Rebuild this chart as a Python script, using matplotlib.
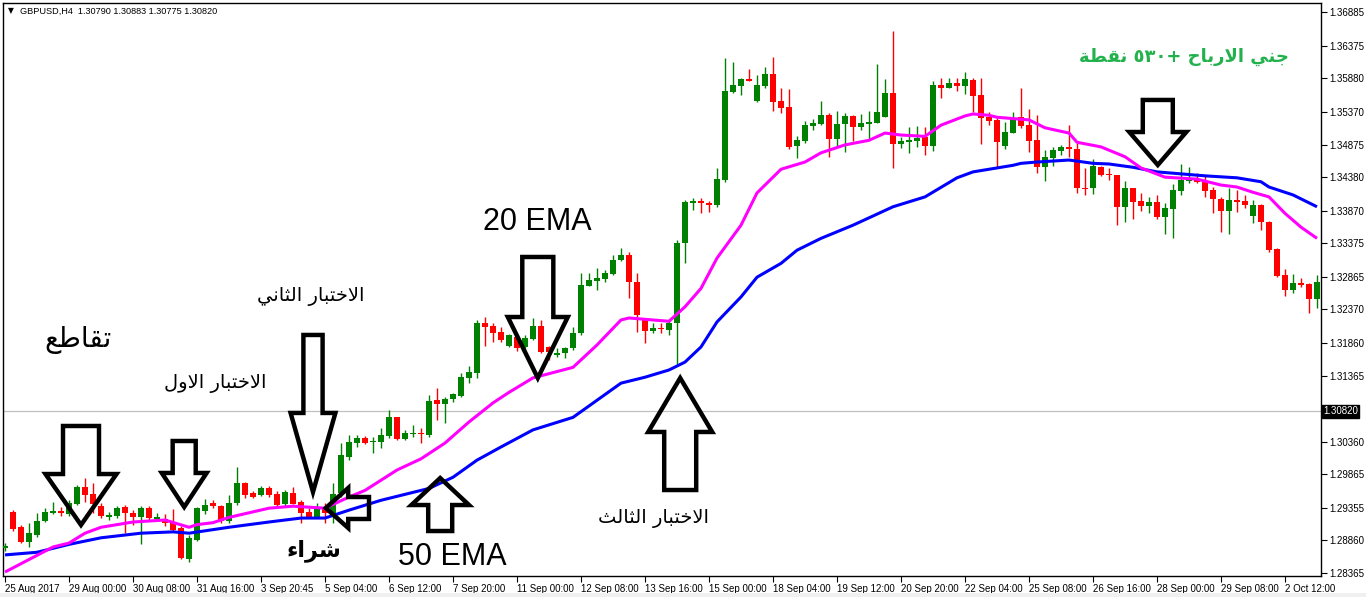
import re
import numpy as np
import matplotlib
matplotlib.use("Agg")
import matplotlib.pyplot as plt
from matplotlib.patches import Polygon, Rectangle
import matplotlib.transforms as mtransforms

# ---------------- data ----------------
opens = [1.2874, 1.2929, 1.2906, 1.2884, 1.2894, 1.2916, 1.2928, 1.2931, 1.2926, 1.2941,
         1.2967, 1.2956, 1.2939, 1.2922, 1.2923, 1.2937, 1.2927, 1.2921, 1.2935, 1.2919,
         1.2918, 1.2913, 1.2905, 1.2858, 1.2886, 1.2930, 1.2943, 1.2938, 1.2915, 1.2943,
         1.2973, 1.2958, 1.2955, 1.2965, 1.2956, 1.2941, 1.2958, 1.2944, 1.2929, 1.2921,
         1.2937, 1.2926, 1.2958, 1.3013, 1.3034, 1.3042, 1.3035, 1.3035, 1.3045, 1.3073,
         1.3040, 1.3047, 1.3049, 1.3046, 1.3099, 1.3093, 1.3101, 1.3105, 1.3133, 1.3140,
         1.3216, 1.3212, 1.3203, 1.3181, 1.3195, 1.3180, 1.3192, 1.3212, 1.3180, 1.3168,
         1.3171, 1.3178, 1.3201, 1.3272, 1.3280, 1.3283, 1.3291, 1.3312, 1.3320, 1.3279,
         1.3224, 1.3204, 1.3209, 1.3206, 1.3216, 1.3338, 1.3399, 1.3402, 1.3399, 1.3396,
         1.3434, 1.3567, 1.3576, 1.3587, 1.3554, 1.3576, 1.3595, 1.3554, 1.3545, 1.3485,
         1.3493, 1.3516, 1.3519, 1.3532, 1.3496, 1.3519, 1.3531, 1.3514, 1.3519, 1.3520,
         1.3529, 1.3566, 1.3488, 1.3491, 1.3493, 1.3499, 1.3485, 1.3578, 1.3573, 1.3581,
         1.3576, 1.3586, 1.3563, 1.3529, 1.3525, 1.3485, 1.3505, 1.3529, 1.3517, 1.3494,
         1.3453, 1.3467, 1.3478, 1.3484, 1.3481, 1.3421, 1.3421, 1.3453, 1.3443, 1.3441,
         1.3393, 1.3421, 1.3402, 1.3394, 1.3400, 1.3377, 1.3390, 1.3417, 1.3432, 1.3434,
         1.3431, 1.3418, 1.3405, 1.3386, 1.3403, 1.3402, 1.3379, 1.3396, 1.3370, 1.3329,
         1.3289, 1.3266, 1.3277, 1.3275, 1.3253]
highs = [1.2882, 1.2932, 1.2909, 1.2912, 1.2927, 1.2935, 1.2944, 1.2937, 1.2947, 1.2970,
         1.2981, 1.2973, 1.2943, 1.2929, 1.2938, 1.2940, 1.2932, 1.2938, 1.2938, 1.2927,
         1.2926, 1.2933, 1.2908, 1.2894, 1.2937, 1.2949, 1.2947, 1.2940, 1.2955, 1.2997,
         1.2975, 1.2961, 1.2968, 1.2968, 1.2961, 1.2962, 1.2967, 1.2947, 1.2935, 1.2943,
         1.2943, 1.2973, 1.3034, 1.3046, 1.3046, 1.3044, 1.3043, 1.3057, 1.3084, 1.3074,
         1.3054, 1.3061, 1.3057, 1.3107, 1.3117, 1.3104, 1.3110, 1.3140, 1.3151, 1.3221,
         1.3225, 1.3216, 1.3210, 1.3199, 1.3198, 1.3198, 1.3224, 1.3221, 1.3181, 1.3178,
         1.3180, 1.3210, 1.3292, 1.3292, 1.3300, 1.3297, 1.3320, 1.3330, 1.3324, 1.3292,
         1.3224, 1.3216, 1.3216, 1.3221, 1.3342, 1.3403, 1.3406, 1.3406, 1.3402, 1.3452,
         1.3619, 1.3613, 1.3589, 1.3602, 1.3593, 1.3605, 1.3621, 1.3573, 1.3572, 1.3500,
         1.3523, 1.3526, 1.3554, 1.3535, 1.3538, 1.3535, 1.3532, 1.3534, 1.3538, 1.3610,
         1.3587, 1.3660, 1.3499, 1.3514, 1.3516, 1.3514, 1.3584, 1.3589, 1.3589, 1.3589,
         1.3598, 1.3589, 1.3589, 1.3537, 1.3528, 1.3522, 1.3537, 1.3573, 1.3541, 1.3532,
         1.3479, 1.3484, 1.3487, 1.3517, 1.3490, 1.3452, 1.3465, 1.3455, 1.3452, 1.3441,
         1.3432, 1.3421, 1.3414, 1.3408, 1.3411, 1.3399, 1.3427, 1.3458, 1.3453, 1.3444,
         1.3441, 1.3423, 1.3408, 1.3421, 1.3418, 1.3411, 1.3403, 1.3397, 1.3371, 1.3330,
         1.3298, 1.3291, 1.3285, 1.3277, 1.3289]
lows = [1.2870, 1.2900, 1.2882, 1.2876, 1.2891, 1.2914, 1.2926, 1.2923, 1.2923, 1.2940,
        1.2944, 1.2927, 1.2920, 1.2917, 1.2920, 1.2897, 1.2909, 1.2880, 1.2917, 1.2915,
        1.2908, 1.2900, 1.2858, 1.2853, 1.2885, 1.2926, 1.2936, 1.2912, 1.2912, 1.2940,
        1.2950, 1.2950, 1.2953, 1.2952, 1.2938, 1.2938, 1.2941, 1.2912, 1.2920, 1.2920,
        1.2912, 1.2912, 1.2952, 1.3008, 1.3028, 1.3033, 1.3019, 1.3026, 1.3042, 1.3038,
        1.3038, 1.3043, 1.3034, 1.3043, 1.3069, 1.3064, 1.3096, 1.3104, 1.3125, 1.3133,
        1.3181, 1.3187, 1.3187, 1.3180, 1.3174, 1.3178, 1.3190, 1.3171, 1.3160, 1.3164,
        1.3163, 1.3175, 1.3198, 1.3272, 1.3266, 1.3278, 1.3289, 1.3310, 1.3254, 1.3203,
        1.3186, 1.3201, 1.3201, 1.3198, 1.3154, 1.3307, 1.3388, 1.3384, 1.3385, 1.3393,
        1.3431, 1.3566, 1.3563, 1.3584, 1.3552, 1.3573, 1.3538, 1.3535, 1.3481, 1.3467,
        1.3490, 1.3510, 1.3517, 1.3469, 1.3485, 1.3476, 1.3493, 1.3510, 1.3494, 1.3520,
        1.3529, 1.3452, 1.3482, 1.3475, 1.3484, 1.3472, 1.3478, 1.3558, 1.3573, 1.3569,
        1.3564, 1.3537, 1.3488, 1.3517, 1.3453, 1.3481, 1.3505, 1.3513, 1.3476, 1.3444,
        1.3432, 1.3455, 1.3472, 1.3469, 1.3414, 1.3411, 1.3412, 1.3440, 1.3434, 1.3365,
        1.3370, 1.3374, 1.3386, 1.3384, 1.3374, 1.3352, 1.3345, 1.3411, 1.3429, 1.3429,
        1.3408, 1.3384, 1.3355, 1.3352, 1.3385, 1.3391, 1.3368, 1.3358, 1.3324, 1.3286,
        1.3257, 1.3262, 1.3271, 1.3231, 1.3239]
closes = [1.2877, 1.2903, 1.2884, 1.2897, 1.2915, 1.2929, 1.2930, 1.2927, 1.2943, 1.2967,
          1.2955, 1.2941, 1.2923, 1.2925, 1.2935, 1.2927, 1.2921, 1.2936, 1.2920, 1.2921,
          1.2912, 1.2902, 1.2859, 1.2889, 1.2935, 1.2940, 1.2939, 1.2915, 1.2943, 1.2973,
          1.2955, 1.2952, 1.2965, 1.2955, 1.2940, 1.2959, 1.2942, 1.2927, 1.2921, 1.2935,
          1.2927, 1.2956, 1.3016, 1.3036, 1.3042, 1.3034, 1.3037, 1.3046, 1.3073, 1.3040,
          1.3049, 1.3049, 1.3047, 1.3098, 1.3094, 1.3101, 1.3108, 1.3134, 1.3142, 1.3216,
          1.3210, 1.3201, 1.3190, 1.3198, 1.3178, 1.3194, 1.3212, 1.3172, 1.3172, 1.3171,
          1.3178, 1.3201, 1.3274, 1.3282, 1.3285, 1.3292, 1.3312, 1.3320, 1.3279, 1.3228,
          1.3204, 1.3209, 1.3207, 1.3216, 1.3338, 1.3400, 1.3402, 1.3399, 1.3396, 1.3435,
          1.3569, 1.3578, 1.3587, 1.3584, 1.3578, 1.3595, 1.3552, 1.3543, 1.3484, 1.3494,
          1.3517, 1.3520, 1.3532, 1.3496, 1.3519, 1.3531, 1.3514, 1.3520, 1.3522, 1.3537,
          1.3566, 1.3488, 1.3493, 1.3494, 1.3497, 1.3485, 1.3578, 1.3573, 1.3581, 1.3576,
          1.3587, 1.3561, 1.3528, 1.3523, 1.3491, 1.3507, 1.3526, 1.3516, 1.3493, 1.3453,
          1.3469, 1.3479, 1.3484, 1.3481, 1.3421, 1.3420, 1.3455, 1.3441, 1.3441, 1.3393,
          1.3421, 1.3400, 1.3394, 1.3400, 1.3377, 1.3391, 1.3418, 1.3434, 1.3437, 1.3431,
          1.3417, 1.3405, 1.3386, 1.3403, 1.3400, 1.3396, 1.3396, 1.3370, 1.3327, 1.3288,
          1.3266, 1.3277, 1.3274, 1.3253, 1.3278]

ema20_bars = [0, 6, 8, 10, 12, 16, 20, 23, 24, 26, 28, 33, 36, 40, 43, 45, 49, 52, 55, 58,
              61, 63, 66, 71, 74, 77, 78, 83, 85, 87, 89, 92, 94, 97, 100, 102, 105, 108,
              110, 112, 115, 117, 120, 121, 123, 124, 128, 130, 133, 134, 137, 140, 142,
              145, 149, 152, 154, 156, 158, 160, 162, 164]
ema20_vals = [1.2838, 1.2876, 1.2882, 1.2897, 1.2906, 1.2914, 1.2917, 1.2906, 1.2910, 1.2913,
              1.2921, 1.2935, 1.2938, 1.2935, 1.2952, 1.2962, 1.2993, 1.3010, 1.3034, 1.3066,
              1.3095, 1.3111, 1.3133, 1.3149, 1.3183, 1.3221, 1.3224, 1.3219, 1.3241, 1.3269,
              1.3315, 1.3365, 1.3414, 1.3450, 1.3461, 1.3475, 1.3487, 1.3494, 1.3505, 1.3502,
              1.3500, 1.3517, 1.3531, 1.3534, 1.3532, 1.3529, 1.3525, 1.3513, 1.3505, 1.3491,
              1.3484, 1.3469, 1.3452, 1.3438, 1.3435, 1.3426, 1.3423, 1.3415, 1.3408, 1.3383,
              1.3362, 1.3345]

ema50_bars = [0, 4, 8, 12, 17, 21, 23, 28, 33, 37, 40, 43, 47, 53, 56, 59, 62, 66, 71, 74,
              77, 80, 83, 85, 87, 89, 92, 94, 97, 99, 102, 106, 111, 115, 119, 121, 126,
              127, 129, 133, 136, 138, 141, 144, 147, 150, 154, 157, 158, 161, 164]
ema50_vals = [1.2864, 1.2868, 1.2880, 1.2890, 1.2897, 1.2899, 1.2897, 1.2906, 1.2914, 1.2920,
              1.2920, 1.2932, 1.2947, 1.2965, 1.2982, 1.3008, 1.3028, 1.3054, 1.3073, 1.3099,
              1.3125, 1.3134, 1.3145, 1.3157, 1.3180, 1.3218, 1.3256, 1.3286, 1.3307, 1.3327,
              1.3345, 1.3365, 1.3393, 1.3408, 1.3437, 1.3446, 1.3456, 1.3459, 1.3461, 1.3464,
              1.3459, 1.3458, 1.3453, 1.3446, 1.3443, 1.3440, 1.3437, 1.3431, 1.3423, 1.3411,
              1.3393]

xtick_labels = ["25 Aug 2017", "29 Aug 00:00", "30 Aug 08:00", "31 Aug 16:00", "3 Sep 20:45",
                "5 Sep 04:00", "6 Sep 12:00", "7 Sep 20:00", "11 Sep 00:00", "12 Sep 08:00",
                "13 Sep 16:00", "15 Sep 00:00", "18 Sep 04:00", "19 Sep 12:00", "20 Sep 20:00",
                "22 Sep 04:00", "25 Sep 08:00", "26 Sep 16:00", "28 Sep 00:00", "29 Sep 08:00",
                "2 Oct 12:00"]
ytick_values = [1.36885, 1.36375, 1.35880, 1.35370, 1.34875, 1.34380, 1.33870, 1.33375,
                1.32865, 1.32370, 1.31860, 1.31365, 1.30360, 1.29865, 1.29355, 1.28860,
                1.28365]
current_price = 1.30820
title_text = "GBPUSD,H4  1.30790 1.30883 1.30775 1.30820"

# ---------------- Arabic shaping (presentation forms, visual order) ----------------
AR_FORMS = {
    "\u0627": ("\uFE8D", "\uFE8E", None, None),
    "\u0628": ("\uFE8F", "\uFE90", "\uFE91", "\uFE92"),
    "\u062A": ("\uFE95", "\uFE96", "\uFE97", "\uFE98"),
    "\u062B": ("\uFE99", "\uFE9A", "\uFE9B", "\uFE9C"),
    "\u062C": ("\uFE9D", "\uFE9E", "\uFE9F", "\uFEA0"),
    "\u062D": ("\uFEA1", "\uFEA2", "\uFEA3", "\uFEA4"),
    "\u062E": ("\uFEA5", "\uFEA6", "\uFEA7", "\uFEA8"),
    "\u0631": ("\uFEAD", "\uFEAE", None, None),
    "\u0634": ("\uFEB5", "\uFEB6", "\uFEB7", "\uFEB8"),
    "\u0637": ("\uFEC1", "\uFEC2", "\uFEC3", "\uFEC4"),
    "\u0639": ("\uFEC9", "\uFECA", "\uFECB", "\uFECC"),
    "\u0642": ("\uFED5", "\uFED6", "\uFED7", "\uFED8"),
    "\u0644": ("\uFEDD", "\uFEDE", "\uFEDF", "\uFEE0"),
    "\u0646": ("\uFEE5", "\uFEE6", "\uFEE7", "\uFEE8"),
    "\u0648": ("\uFEED", "\uFEEE", None, None),
    "\u064A": ("\uFEF1", "\uFEF2", "\uFEF3", "\uFEF4"),
    "\u0629": ("\uFE93", "\uFE94", None, None),
    "\u0621": ("\uFE80", None, None, None),
}
DIGITS = "0123456789\u0660\u0661\u0662\u0663\u0664\u0665\u0666\u0667\u0668\u0669"


def shape_arabic(text):
    units = []
    i = 0
    while i < len(text):
        ch = text[i]
        if ch == "\u0644" and i + 1 < len(text) and text[i + 1] == "\u0627":
            units.append(("\uFEFB", "\uFEFC", None, None))
            i += 2
            continue
        units.append(AR_FORMS.get(ch, ch))
        i += 1

    def j_prev(u):
        return isinstance(u, tuple) and u[1] is not None

    def j_next(u):
        return isinstance(u, tuple) and u[2] is not None

    out = []
    for k, u in enumerate(units):
        if not isinstance(u, tuple):
            out.append(u)
            continue
        p = k > 0 and j_next(units[k - 1]) and j_prev(u)
        n = k + 1 < len(units) and j_next(u) and j_prev(units[k + 1])
        if p and n:
            f = u[3]
        elif p:
            f = u[1]
        elif n:
            f = u[2]
        else:
            f = u[0]
        out.append(f)
    vis = "".join(out)[::-1]
    vis = re.sub("[" + DIGITS + "]+", lambda m: m.group(0)[::-1], vis)
    return vis


# ---------------- figure ----------------
W, H = 1366, 597
fig = plt.figure(figsize=(W / 100, H / 100), dpi=100)
fig.patch.set_facecolor("white")
ax = fig.add_axes([3 / W, 21 / H, 1318 / W, 573 / H])
ax.set_xlim(-0.25, 164.5)
ax.set_ylim(1.283195, 1.370263)
ax.set_facecolor("white")

# light gray strip under the window
fig.patches.append(Rectangle((0, 0), 1, 4 / H, transform=fig.transFigure,
                             facecolor="#f0f0f0", edgecolor="none", zorder=0))

# current price line
ax.axhline(current_price, color="#c0c0c0", lw=0.9, zorder=1)

# candles
o = np.array(opens)
h = np.array(highs)
l = np.array(lows)
c = np.array(closes)
xs = np.arange(len(o))
up = c >= o
cols = np.where(up, "#008000", "#ff0000")
ax.vlines(xs, l, h, colors=cols, lw=1.0, zorder=2)
bottoms = np.minimum(o, c)
heights = np.maximum(np.abs(c - o), 0.00013)
ax.bar(xs, heights, bottom=bottoms, width=0.64, color=cols, linewidth=0, zorder=3)

# EMA lines
ax.plot(ema50_bars, ema50_vals, color="#0000ff", lw=2.2, zorder=4, solid_capstyle="butt")
ax.plot(ema20_bars, ema20_vals, color="#ff00ff", lw=2.2, zorder=4, solid_capstyle="butt")

# ---------------- arrows (annotations) ----------------
def v_arrow(cx, tip, tail, head_base, head_hw, shaft_hw):
    return [(cx - shaft_hw, tail), (cx + shaft_hw, tail), (cx + shaft_hw, head_base),
            (cx + head_hw, head_base), (cx, tip), (cx - head_hw, head_base),
            (cx - shaft_hw, head_base)]


def h_arrow(cy, tip, tail, head_base, head_hh, shaft_hh):
    return [(tail, cy - shaft_hh), (tail, cy + shaft_hh), (head_base, cy + shaft_hh),
            (head_base, cy + head_hh), (tip, cy), (head_base, cy - head_hh),
            (head_base, cy - shaft_hh)]


arrows = [
    v_arrow(9.5, 1.29095, 1.30599, 1.29869, 4.44, 2.25),
    v_arrow(22.4, 1.29368, 1.30371, 1.29885, 2.8, 1.44),
    v_arrow(38.5, 1.29596, 1.31982, 1.30797, 2.8, 1.2),
    h_arrow(1.29353, 40.1, 45.5, 42.9, 0.00304, 0.00167),
    v_arrow(54.4, 1.29808, 1.29003, 1.29398, 3.6, 1.5),
    v_arrow(66.6, 1.31328, 1.33167, 1.32255, 3.75, 1.94),
    v_arrow(84.4, 1.31328, 1.29626, 1.30508, 4.0, 2.0),
    v_arrow(144.1, 1.34565, 1.35553, 1.35066, 3.56, 1.875),
]
for pts in arrows:
    ax.add_patch(Polygon(pts, closed=True, facecolor="none", edgecolor="black",
                         lw=3.2, joinstyle="miter", zorder=6))

# ---------------- texts ----------------
AR = ["DejaVu Sans"]
ax.text(9.1, 1.31906, shape_arabic("تقاطع"), family=AR, fontsize=20,
        ha="center", va="center", color="black", zorder=7)
ax.text(26.25, 1.31252, shape_arabic("الاختبار الاول"), family=AR, fontsize=14,
        ha="center", va="center", color="black", zorder=7)
ax.text(38.25, 1.32559, shape_arabic("الاختبار الثاني"), family=AR, fontsize=14,
        ha="center", va="center", color="black", zorder=7)
ax.text(81.0, 1.29186, shape_arabic("الاختبار الثالث"), family=AR, fontsize=14,
        ha="center", va="center", color="black", zorder=7)
ax.text(38.6, 1.28699, shape_arabic("شراء"), family=AR, fontsize=16, fontweight="bold",
        ha="center", va="center", color="black", zorder=7)
ax.text(147.4, 1.36206, shape_arabic("جني الارباح +٥٣٠ نقطة"), family=AR, fontsize=13,
        fontweight="bold", ha="center", va="center", color="#22b14c", zorder=7)
ax.text(66.6, 1.33699, "20 EMA", family=["Liberation Sans", "DejaVu Sans"], fontsize=22,
        ha="center", va="center", color="black", zorder=7)
ax.text(55.9, 1.28608, "50 EMA", family=["Liberation Sans", "DejaVu Sans"], fontsize=22,
        ha="center", va="center", color="black", zorder=7)

# title
fig.text(8 / W, 1 - 11 / H, "\u25BC", family=["DejaVu Sans"], fontsize=5.5,
         ha="left", va="center", color="black")
fig.text(20 / W, 1 - 11 / H, title_text, family=["Liberation Sans", "DejaVu Sans"],
         fontsize=6.6, ha="left", va="center", color="black")

# ---------------- axes styling ----------------
for s in ax.spines.values():
    s.set_color("black")
    s.set_linewidth(1.0)

ax.yaxis.tick_right()
ax.set_yticks(ytick_values)
ax.set_yticklabels(["%.5f" % v for v in ytick_values])
ax.tick_params(axis="y", direction="out", length=4, width=0.8, pad=2, labelsize=7,
               colors="black")
for lab in ax.get_yticklabels():
    lab.set_family(["Liberation Sans", "DejaVu Sans"])

ax.set_xticks(list(range(0, 8 * len(xtick_labels), 8)))
ax.set_xticklabels(xtick_labels, ha="left")
ax.tick_params(axis="x", direction="out", length=4, width=0.8, pad=2, labelsize=7,
               colors="black")
for lab in ax.get_xticklabels():
    lab.set_family(["Liberation Sans", "DejaVu Sans"])

# current price label box on the price scale
trans = mtransforms.blended_transform_factory(ax.transAxes, ax.transData)
ax.text(1.0015, current_price, "%.5f" % current_price, transform=trans,
        family=["Liberation Sans", "DejaVu Sans"], fontsize=7, color="white",
        ha="left", va="center", zorder=10, clip_on=False,
        bbox=dict(boxstyle="square,pad=0.15", facecolor="black", edgecolor="black"))

fig.savefig("out.png", dpi=100, facecolor="white")
